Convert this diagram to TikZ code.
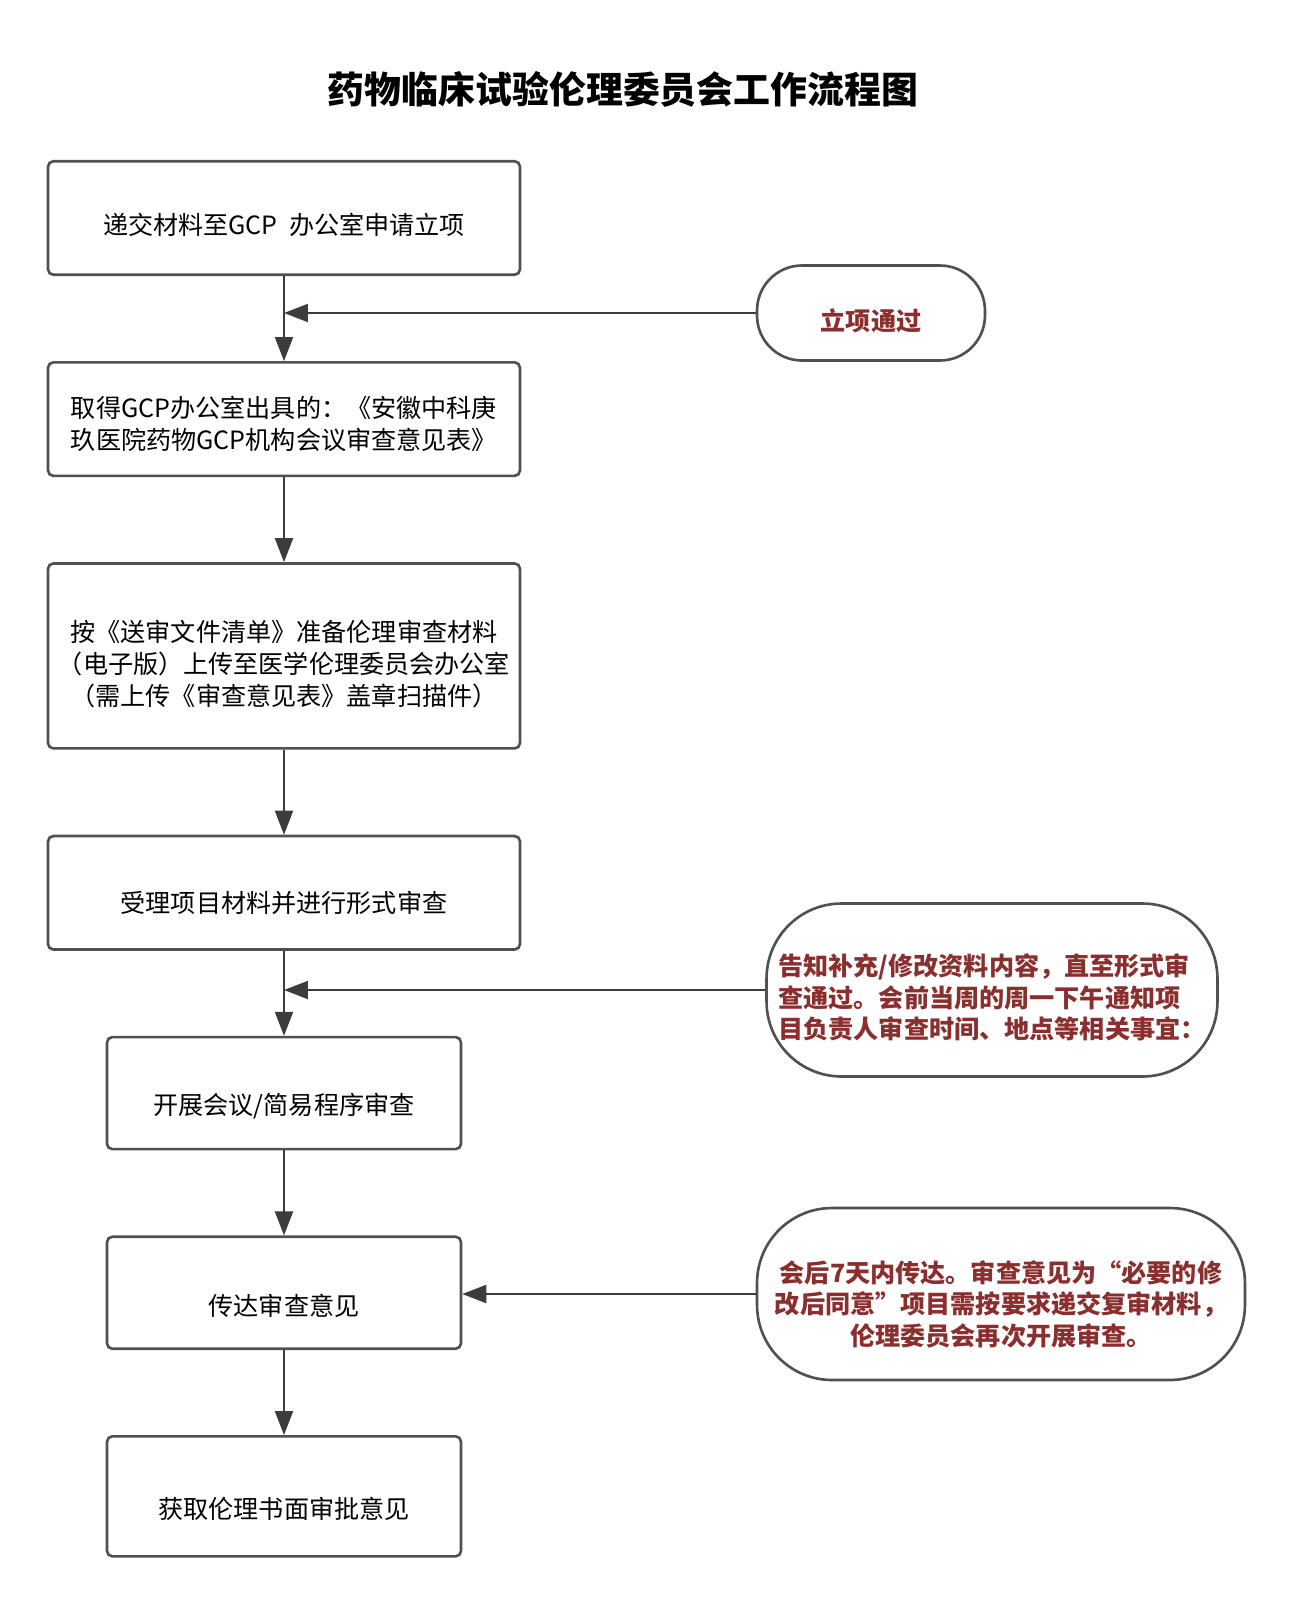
\documentclass[tikz,border=0pt]{standalone}
\usepackage{fontspec}
\usepackage{xcolor}
\usepackage{tikz}
\usetikzlibrary{arrows.meta,positioning}
\setmainfont{Noto Sans CJK SC}
\definecolor{linec}{HTML}{3C3C3C}
\definecolor{framec}{HTML}{505050}
\definecolor{noter}{HTML}{8A2E2E}
\tikzset{
  ar/.style={-{Triangle[length=4.8mm,width=3.6mm]},line width=1.2pt,linec},
  box/.style={draw=framec,line width=1.5pt,rounded corners=3pt,align=center,inner sep=0pt,
    minimum width=9.44cm,minimum height=2.27cm,text height=2.4em,
    font=\fontsize{14.3}{18.3}\selectfont},
  sbox/.style={box,minimum width=7.08cm,minimum height=2.24cm,text height=2.65em},
  pill/.style={draw=framec,line width=1.5pt,rounded corners=1.5cm,inner sep=0pt,text=noter,
    text height=2.1em,font=\bfseries\fontsize{14.3}{18}\selectfont}
}

\begin{document}
\begin{tikzpicture}[x=0.02cm,y=-0.02cm,node distance=1.7cm]
\path[use as bounding box,fill=white] (0,0) rectangle (1296,1600);
\node[font=\bfseries\fontsize{21}{25}\selectfont] (title) at (623,89) {药物临床试验伦理委员会工作流程图};
\node[box,text height=2em] (b1) at (284,218) {递交材料至GCP\ \ 办公室申请立项};
\node[box,below=of b1,text height=3.62em] (b2) {取得GCP办公室出具的：《安徽中科庚\\玖医院药物GCP机构会议审查意见表》};
\node[box,below=of b2,minimum height=3.7cm,text height=5.8em] (b3) {按《送审文件清单》准备伦理审查材料\\（电子版）上传至医学伦理委员会办公室\\（需上传《审查意见表》盖章扫描件）};
\node[box,below=of b3,text height=2.35em] (b4) {受理项目材料并进行形式审查};
\node[sbox,below=of b4] (b5) {开展会议/简易程序审查};
\node[sbox,below=of b5] (b6) {传达审查意见};
\node[sbox,below=of b6,minimum height=2.4cm] (b7) {获取伦理书面审批意见};
\node[pill,rounded corners=0.9cm,minimum width=4.56cm,minimum height=1.9cm] (cap1) at (871,313) {立项通过};
\node[pill,align=left,minimum width=9.02cm,minimum height=3.46cm,text height=5.7em] (cap2) at (992,990) {告知补充/修改资料内容，直至形式审\\查通过。会前当周的周一下午通知项\\目负责人审查时间、地点等相关事宜：};
\node[pill,align=center,minimum width=9.76cm,minimum height=3.44cm,text height=6em] (cap3) at (1001,1294) {会后7天内传达。审查意见为“必要的修\\改后同意”项目需按要求递交复审材料，\\伦理委员会再次开展审查。};
\coordinate (j1) at (b1.south |- cap1.west);
\coordinate (j2) at (b4.south |- cap2.west);
\draw[ar] (b1) -- (b2);
\draw[ar] (b2) -- (b3);
\draw[ar] (b3) -- (b4);
\draw[ar] (b4) -- (b5);
\draw[ar] (b5) -- (b6);
\draw[ar] (b6) -- (b7);
\draw[ar] (cap1.west) -- (j1);
\draw[ar] (cap2.west) -- (j2);
\draw[ar] (cap3.west) -- (cap3.west -| b6.east);
\end{tikzpicture}
\end{document}
